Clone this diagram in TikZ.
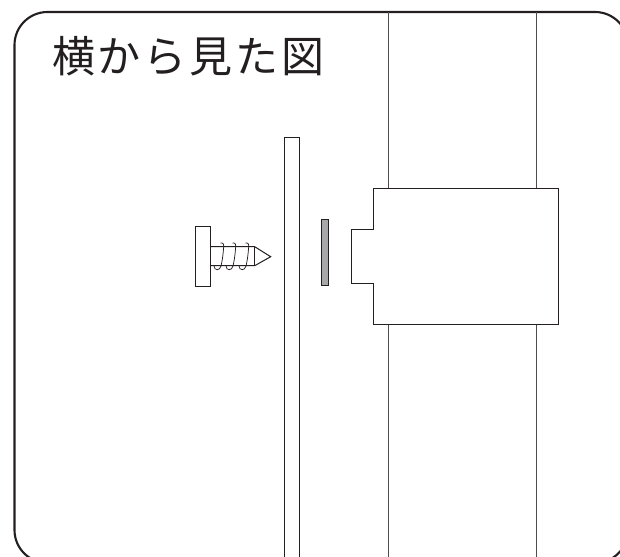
\documentclass[tikz,border=0pt]{standalone}
\usepackage{fontspec}
\newfontfamily\cjk[LetterSpace=6.5]{Noto Sans CJK JP}
\definecolor{ink}{HTML}{231F20}
\definecolor{platefill}{HTML}{A7A8AA}
\begin{document}
\begin{tikzpicture}[x=1pt,y=-1pt,
  frameline/.style={draw=ink,line width=2.1pt},
  thinline/.style={draw=ink,line width=1pt},
  postline/.style={draw=ink!80,line width=1pt},
  threadline/.style={draw=ink,line width=0.75pt},
  title/.style={anchor=base west,inner sep=0pt,text=ink,font=\cjk\fontsize{43}{46}\selectfont}]
\useasboundingbox (0,0) rectangle (620,556);
\begin{scope}
\clip (0,0) rectangle (620,556);
\draw[frameline,rounded corners=33pt] (14.5,12) rectangle (628,563);
\coordinate (postAtop) at (388,12);
\coordinate (postAbot) at (388,562);
\coordinate (postBtop) at (536,12);
\coordinate (postBbot) at (536,562);
\draw[postline] (postAtop) -- (388,188.7) (388,324) -- (postAbot);
\draw[postline] (postBtop) -- (536,188.7) (536,324) -- (postBbot);
\draw[thinline] (284.5,562) -- (284.5,138) -- (299.5,138) -- (299.5,562);
\end{scope}
\draw[thinline,fill=platefill] (321.4,219.3) rectangle (328.7,285.7);
\draw[thinline,line join=miter] (373.3,188.7) -- (558,188.7) -- (558,324) -- (373.3,324) -- (373.3,283.3) -- (351,283.3) -- (351,229.3) -- (373.3,229.3) -- cycle;
% screw
\draw[thinline] (195.3,226.7) rectangle (210.3,286.3);
\draw[thinline] (210.3,246.7) -- (254.7,246.7) -- (270.7,256.7) -- (254.7,265.7) -- (210.3,265.7);
\draw[thinline] (254.7,246.7) -- (254.7,265.7);
\foreach \dx in {0,12,25}{
  \draw[threadline] ([xshift=\dx pt]220.5,243) .. controls ([xshift=\dx pt]224,242.5) and ([xshift=\dx pt]224,245) .. ([xshift=\dx pt]223.5,249) .. controls ([xshift=\dx pt]223,256) and ([xshift=\dx pt]222,262) .. ([xshift=\dx pt]221,266) .. controls ([xshift=\dx pt]220,271) and ([xshift=\dx pt]214,271) .. ([xshift=\dx pt]214,265.7);
}
\node[title] (heading) at (52,73) {横から見た図};
\end{tikzpicture}
\end{document}
